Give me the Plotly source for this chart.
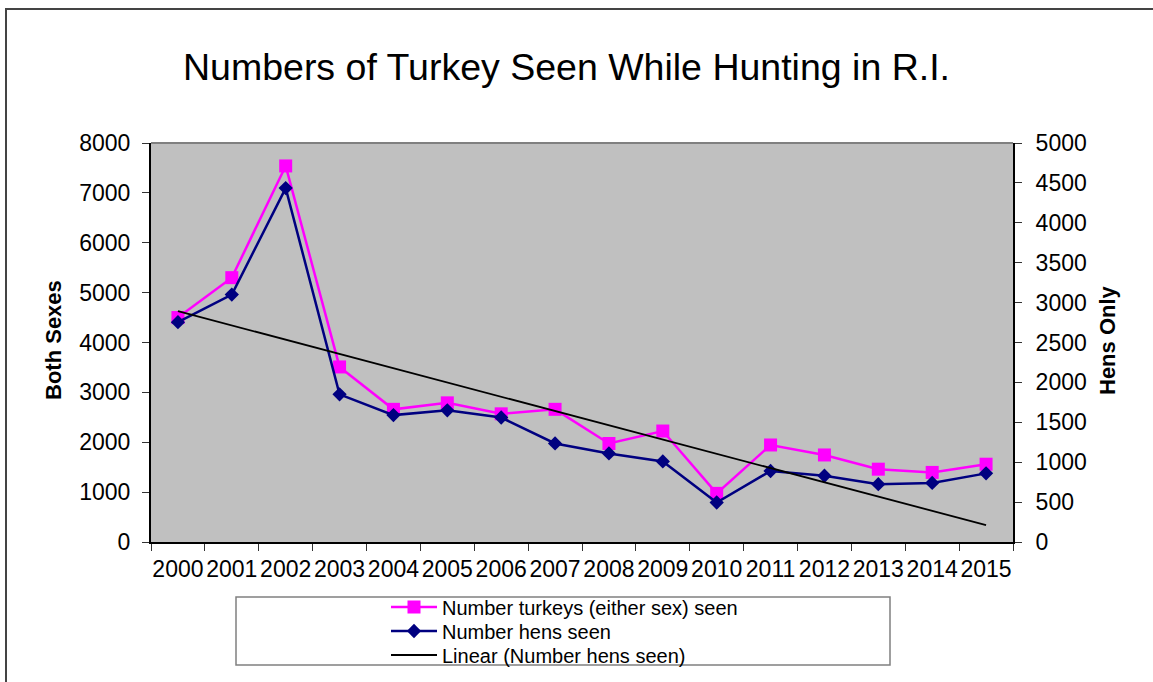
import numpy as np
import plotly.graph_objects as go

years = [str(y) for y in range(2000, 2016)]
both_sexes = [4500, 5300, 7540, 3510, 2660, 2790, 2570, 2660, 1975, 2225, 975, 1945, 1745, 1460, 1395, 1560]
hens = [2755, 3100, 4435, 1850, 1590, 1650, 1560, 1235, 1110, 1010, 495, 890, 830, 725, 740, 860]

left_ticks = list(range(0, 8001, 1000))
right_ticks = list(range(0, 5001, 500))

# linear trendline of hens (least squares on category index)
idx = np.arange(len(hens))
slope, intercept = np.polyfit(idx, hens, 1)
trend = list(slope * idx + intercept)

FONT = "Liberation Sans, Arial, sans-serif"

W, H = 1153, 682
L, R, T, B = 151, 140, 143, 140
pw, ph = W - L - R, H - T - B

def px_x(p):
    return (p - L) / pw

def px_y(p):
    return (H - B - p) / ph

fig = go.Figure()
fig.add_trace(go.Scatter(
    x=years, y=both_sexes, name="Number turkeys (either sex) seen",
    mode="lines+markers", line=dict(color="#FF00FF", width=2.5),
    marker=dict(symbol="square", size=13, color="#FF00FF"), yaxis="y",
    legend="legend"))
fig.add_trace(go.Scatter(
    x=years, y=hens, name="Number hens seen",
    mode="lines+markers", line=dict(color="#000080", width=2.5),
    marker=dict(symbol="diamond", size=11, color="#000080"), yaxis="y2",
    legend="legend2"))
fig.add_trace(go.Scatter(
    x=years, y=trend, name="Linear (Number hens seen)",
    mode="lines", line=dict(color="#000000", width=1.8), yaxis="y2",
    legend="legend3"))

def leg(center_y):
    return dict(x=px_x(386), y=px_y(center_y), xanchor="left", yanchor="middle",
                bgcolor="rgba(0,0,0,0)", borderwidth=0, itemwidth=46,
                font=dict(size=20, family=FONT, color="black"))

fig.update_layout(
    width=W, height=H,
    margin=dict(l=L, r=R, t=T, b=B, pad=0, autoexpand=False),
    paper_bgcolor="white", plot_bgcolor="#C0C0C0",
    font=dict(family=FONT, color="black", size=23),
    title=dict(text="Numbers of Turkey Seen While Hunting in R.I.",
               x=566.5 / W, xanchor="center", y=1 - 67 / H, yanchor="middle",
               font=dict(size=37.5, family=FONT, color="black")),
    xaxis=dict(type="category", range=[-0.5, len(years) - 0.5],
               tickson="boundaries", ticks="outside", ticklen=7,
               tickcolor="#333333", showgrid=False, showline=True, linecolor="black",
               linewidth=2, tickfont=dict(size=23), zeroline=False, tickangle=0,
               ticklabelstandoff=5, automargin=False),
    yaxis=dict(range=[0, 8000], tickvals=left_ticks, ticks="outside", ticklen=7,
               tickcolor="#333333", showgrid=False, showline=True, linecolor="black",
               linewidth=2, zeroline=False, tickfont=dict(size=23),
               ticklabelstandoff=7, automargin=False),
    yaxis2=dict(range=[0, 5000], tickvals=right_ticks, overlaying="y", side="right",
                ticks="outside", ticklen=7, tickcolor="#333333", showgrid=False,
                showline=True, linecolor="black", linewidth=2, zeroline=False,
                tickfont=dict(size=23), ticklabelstandoff=9, automargin=False),
    showlegend=True,
    legend=leg(607),
    legend2=leg(631),
    legend3=leg(655),
    annotations=[
        dict(text="<b>Both Sexes</b>", textangle=-90, x=px_x(53), y=px_y(340),
             xanchor="center", yanchor="middle",
             xref="paper", yref="paper", showarrow=False, font=dict(size=22)),
        dict(text="<b>Hens Only</b>", textangle=-90, x=px_x(1107), y=px_y(340),
             xanchor="center", yanchor="middle",
             xref="paper", yref="paper", showarrow=False, font=dict(size=22)),
    ],
    shapes=[
        # outer chart border (top and left visible)
        dict(type="rect", xref="paper", yref="paper", x0=px_x(6), x1=px_x(1200),
             y0=px_y(720), y1=px_y(9), line=dict(color="#444444", width=2),
             fillcolor="rgba(0,0,0,0)", layer="below"),
        # top border of plot area
        dict(type="line", xref="paper", yref="paper", x0=0, x1=1, y0=1, y1=1,
             line=dict(color="#808080", width=2)),
        # legend box
        dict(type="rect", xref="paper", yref="paper", x0=px_x(236), x1=px_x(890),
             y0=px_y(665), y1=px_y(597), line=dict(color="#808080", width=1.5),
             fillcolor="rgba(0,0,0,0)"),
    ],
)

fig.write_html("out.html")
